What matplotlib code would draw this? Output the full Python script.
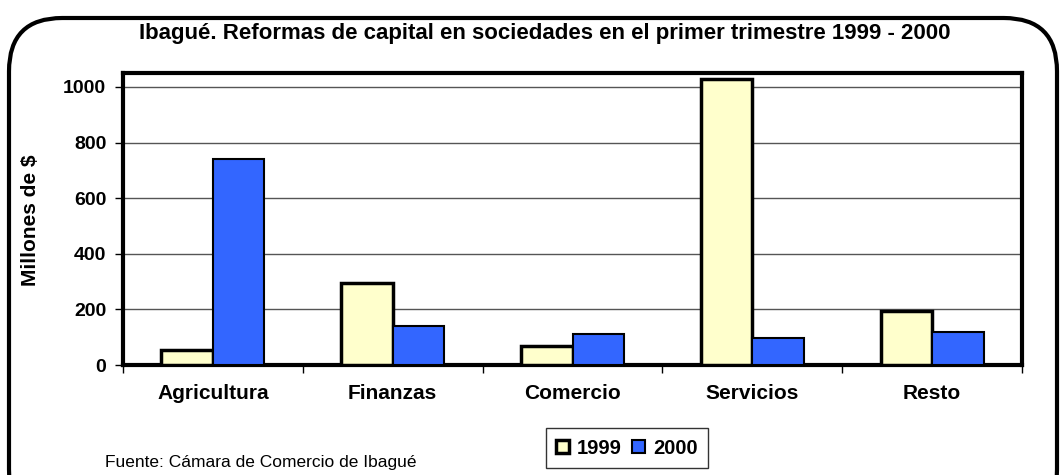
import numpy as np
import matplotlib.pyplot as plt
from matplotlib.patches import FancyBboxPatch

categorias = ['Agricultura', 'Finanzas', 'Comercio', 'Servicios', 'Resto']
valores_1999 = [55, 295, 68, 1029, 194]
valores_2000 = [741, 140, 111, 97, 119]

plt.rcParams['font.family'] = ['Liberation Sans', 'DejaVu Sans']

fig = plt.figure(figsize=(10.64, 4.75), dpi=100)
ax = fig.add_axes([123 / 1064, 1 - 365 / 475, 899 / 1064, 292 / 475])

x = np.arange(len(categorias))
w = 0.286
ax.bar(x - w / 2, valores_1999, w, color='#FFFFCC', edgecolor='black', linewidth=2.5, label='1999', zorder=3)
ax.bar(x + w / 2, valores_2000, w, color='#3366FF', edgecolor='black', linewidth=1.5, label='2000', zorder=3)

ax.set_xlim(-0.5, len(categorias) - 0.5)
ax.set_ylim(0, 1050)
ax.set_yticks(np.arange(0, 1001, 200))
ax.yaxis.grid(True, color='#555555', linewidth=1)
ax.set_axisbelow(True)
for s in ax.spines.values():
    s.set_linewidth(3)

ax.set_xticks(x)
ax.set_xticklabels(categorias, fontsize=15, fontweight='bold')
ax.tick_params(axis='x', length=0, pad=14)
ax.set_xticks(np.arange(-0.5, len(categorias)), minor=True)
ax.tick_params(axis='x', which='minor', length=6, width=1, direction='out')
ax.tick_params(axis='y', length=6, width=1, labelsize=14, pad=6)
for t in ax.get_yticklabels():
    t.set_fontweight('bold')

fig.text(30 / 1064, 1 - 220 / 475, 'Millones de $', rotation=90, ha='center', va='center',
         fontsize=15, fontweight='bold')

fig.text(545 / 1064, 1 - 34 / 475, 'Ibagué. Reformas de capital en sociedades en el primer trimestre 1999 - 2000',
         ha='center', va='center', fontsize=16, fontweight='bold')

leg = ax.legend(loc='center', bbox_to_anchor=(627 / 1064, 1 - 448 / 475), bbox_transform=fig.transFigure,
                ncol=2, prop={'weight': 'bold', 'size': 14.5}, frameon=True, fancybox=False,
                handlelength=0.65, handleheight=0.65, handletextpad=0.4, columnspacing=0.5, borderpad=0.5)
leg.get_frame().set_edgecolor('black')
leg.get_frame().set_linewidth(1)

fig.text(105 / 1064, 1 - 463 / 475, 'Fuente: Cámara de Comercio de Ibagué', ha='left', va='center',
         fontsize=12.5)

frame = FancyBboxPatch((9 / 1064, -0.1), 1048 / 1064, 1.1 - 18 / 475,
                       boxstyle='round,pad=0,rounding_size=0.05', transform=fig.transFigure,
                       facecolor='none', edgecolor='black', linewidth=3, mutation_aspect=1064 / 475)
fig.patches.append(frame)

fig.savefig('out.png', dpi=100)
